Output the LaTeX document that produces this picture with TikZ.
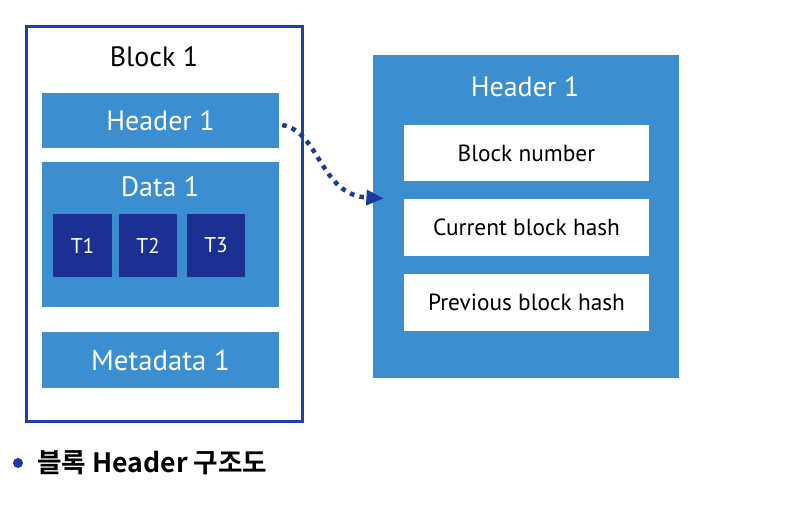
\documentclass[tikz,border=0pt]{standalone}
\usepackage{fontspec}
\setmainfont{PT Sans}
\newfontfamily\krfont{Noto Sans CJK KR}[BoldFont={* Bold}]
\usetikzlibrary{fit,arrows.meta,calc}
\definecolor{lblue}{HTML}{3B8ED0}
\definecolor{dblue}{HTML}{1C2F92}
\definecolor{bordblue}{HTML}{2040A8}
\definecolor{dotblue}{HTML}{1A3A9F}
\tikzset{
  pane/.style={fill=lblue, draw=none, inner sep=0pt},
  wpane/.style={fill=white, draw=none, inner sep=0pt},
  tpane/.style={fill=dblue, draw=none, inner sep=0pt},
  wtxt/.style={text=white, font=\fontsize{21}{24}\selectfont, inner sep=0pt},
  btxt/.style={text=black, font=\fontsize{17.5}{20}\selectfont, inner sep=0pt},
  ttxt/.style={text=white, font=\fontsize{16}{18}\selectfont, inner sep=0pt},
  frame/.style={draw=bordblue, line width=2.25pt, fill=white, inner sep=0pt},
  dotarrow/.style={draw=dotblue, line width=3.4pt, dash pattern=on 3.4pt off 4pt,
    -{Triangle[length=13pt,width=11pt]}}
}
\begin{document}
\begin{tikzpicture}[x=0.75pt,y=-0.75pt]
\useasboundingbox (0,0) rectangle (812,510);
% left block
\node[frame, fit={(26,27) (302,421)}] (blk) {};
\node[font=\fontsize{21}{24}\selectfont, inner sep=0pt] (blktitle) at (154,57) {Block 1};
\node[pane, fit={(42,93) (279,148)}] (h1) {};
\node[wtxt] (h1t) at (h1.center) {Header 1};
\node[pane, fit={(42,162) (279,307)}] (d1) {};
\node[wtxt] (d1t) at (160,187) {Data 1};
\node[tpane, fit={(53,214) (112,277)}] (t1) {};
\node[tpane, fit={(119,214) (177,277)}] (t2) {};
\node[tpane, fit={(187,214) (245,277)}] (t3) {};
\node[ttxt] (t1t) at (t1.center) {T1};
\node[ttxt] (t2t) at (t2.center) {T2};
\node[ttxt] (t3t) at (t3.center) {T3};
\node[pane, fit={(42,332) (279,388)}] (m1) {};
\node[wtxt, font=\fontsize{21.6}{24}\selectfont] (m1t) at (m1.center) {Metadata 1};
% right header
\node[pane, fit={(373,55) (679,378)}] (rh) {};
\node[wtxt] (rht) at (525,87) {Header 1};
\node[wpane, fit={(404,125) (649,181)}] (bn) {};
\node[wpane, fit={(404,199) (649,256)}] (cb) {};
\node[wpane, fit={(404,274) (649,331)}] (pb) {};
\node[btxt] (bnt) at (bn.center) {Block number};
\node[btxt] (cbt) at (cb.center) {Current block hash};
\node[btxt] (pbt) at (pb.center) {Previous block hash};
% arrow
\coordinate (as) at ($(h1.east)+(3,4.5)$);
\coordinate (ae) at ($(rh.west)+(11,-18)$);
\draw[dotarrow] (as) .. controls (320,132) and (320,195) .. (ae);
% caption
\node[circle, fill=dotblue, inner sep=0pt, minimum size=7.5pt] (bul) at (18,463) {};
\node[anchor=west, inner sep=0pt, font=\krfont\bfseries\fontsize{20}{24}\selectfont] (cap) at (37,463) {블록 Header 구조도};
\end{tikzpicture}
\end{document}
